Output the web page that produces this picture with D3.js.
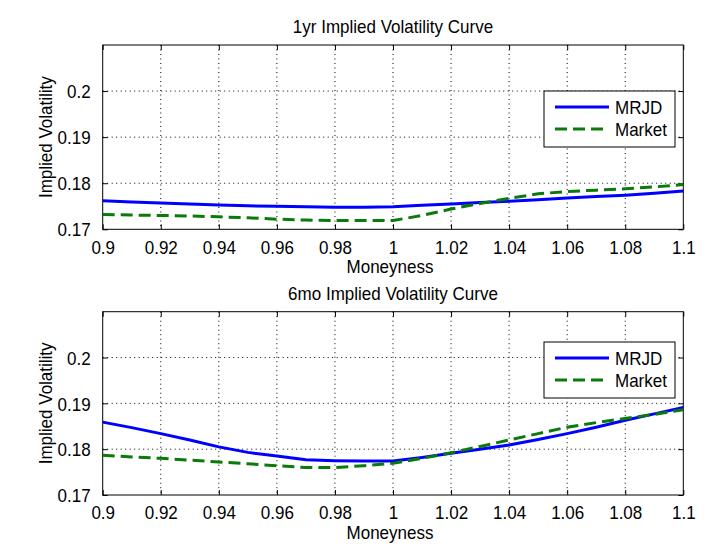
<!DOCTYPE html>
<html>
<head>
<meta charset="utf-8">
<script src="https://cdn.jsdelivr.net/npm/d3@7"></script>
<style>
  html, body { margin: 0; padding: 0; background: #fff; }
  svg { display: block; }
  text { font-family: "Liberation Sans", Arial, sans-serif; fill: #000; }
</style>
</head>
<body>
<svg id="chart" width="710" height="560"></svg>
<script>
// ---------- data ----------
const moneyness = [0.90,0.91,0.92,0.93,0.94,0.95,0.96,0.97,0.98,0.99,1.00,1.01,1.02,1.03,1.04,1.05,1.06,1.07,1.08,1.09,1.10];

const mrjd1yr   = [0.1762,0.1759,0.1757,0.1755,0.1753,0.1751,0.1750,0.1749,0.1748,0.1748,0.1749,0.1752,0.1755,0.1758,0.1761,0.1764,0.1768,0.1771,0.1774,0.1778,0.1783];
const market1yr = [0.1732,0.1731,0.1730,0.1729,0.1727,0.1725,0.1722,0.1720,0.1719,0.1719,0.1719,0.1730,0.1744,0.1756,0.1767,0.1777,0.1782,0.1785,0.1788,0.1792,0.1797];

const mrjd6mo   = [0.1859,0.1847,0.1834,0.1820,0.1805,0.1793,0.1785,0.1777,0.1775,0.1774,0.1774,0.1782,0.1791,0.1800,0.1809,0.1821,0.1834,0.1848,0.1863,0.1877,0.1891];
const market6mo = [0.1787,0.1783,0.1780,0.1776,0.1772,0.1768,0.1764,0.1760,0.1760,0.1764,0.1769,0.1780,0.1792,0.1806,0.1820,0.1834,0.1848,0.1858,0.1867,0.1876,0.1886];

const xTicks = [0.9,0.92,0.94,0.96,0.98,1.0,1.02,1.04,1.06,1.08,1.1];
const xTickLabels = ["0.9","0.92","0.94","0.96","0.98","1","1.02","1.04","1.06","1.08","1.1"];
const yTicks = [0.17,0.18,0.19,0.2];
const yTickLabels = ["0.17","0.18","0.19","0.2"];
const xDomain = [0.9, 1.1];
const yDomain = [0.17, 0.21];

const seriesNames = ["MRJD", "Market"];
const panelTitles = ["1yr Implied Volatility Curve", "6mo Implied Volatility Curve"];
const xLabel = "Moneyness";
const yLabel = "Implied Volatility";

// ---------- styles / layout ----------
const colors = { MRJD: "#0000ff", Market: "#0a7a0a" };
const dashes = { MRJD: null, Market: "12,6" };
const FONT = 17;      // width-defining size
const FONT_TALL = 18.5; // glyph height size (text is slightly condensed)

const svg = d3.select("#chart");
svg.append("rect").attr("width", 710).attr("height", 560).attr("fill", "#fff");

// make text taller while keeping the width of FONT-size text
function condense(sel) {
  sel.each(function () {
    const t = d3.select(this);
    t.attr("font-size", FONT);
    const w = this.getComputedTextLength();
    t.attr("font-size", FONT_TALL).attr("textLength", w).attr("lengthAdjust", "spacingAndGlyphs");
  });
}

const panels = [
  { top: 45,    bottom: 229.3, legendY: 91,  title: panelTitles[0], data: [mrjd1yr, market1yr] },
  { top: 311.7, bottom: 495,   legendY: 342, title: panelTitles[1], data: [mrjd6mo, market6mo] }
];
const left = 102.7, right = 683.3;

panels.forEach(p => {
  const x = d3.scaleLinear().domain(xDomain).range([left, right]);
  const y = d3.scaleLinear().domain(yDomain).range([p.bottom, p.top]);
  const g = svg.append("g");

  // grid (dotted)
  const grid = g.append("g").attr("stroke", "#000").attr("stroke-width", 1)
    .attr("stroke-dasharray", "1,3.5");
  xTicks.slice(1, -1).forEach(t => {
    grid.append("line").attr("x1", x(t)).attr("x2", x(t))
      .attr("y1", p.top).attr("y2", p.bottom);
  });
  yTicks.slice(1).forEach(t => {
    grid.append("line").attr("x1", left).attr("x2", right)
      .attr("y1", y(t)).attr("y2", y(t));
  });

  // axes via d3 with inward ticks
  const xAxisB = d3.axisBottom(x).tickValues(xTicks).tickSize(-5)
    .tickFormat((d, i) => xTickLabels[i]).tickPadding(10);
  const gxb = g.append("g").attr("transform", `translate(0,${p.bottom})`).call(xAxisB);
  gxb.select(".domain").remove();
  gxb.selectAll("text").attr("font-family", "Liberation Sans, Arial, sans-serif")
    .attr("fill", "#000").attr("dy", "0.78em").call(condense);
  gxb.selectAll("line").attr("stroke", "#000");

  const xAxisT = d3.axisTop(x).tickValues(xTicks).tickSize(-5).tickFormat("");
  const gxt = g.append("g").attr("transform", `translate(0,${p.top})`).call(xAxisT);
  gxt.select(".domain").remove();
  gxt.selectAll("line").attr("stroke", "#000");

  const yAxisL = d3.axisLeft(y).tickValues(yTicks).tickSize(-5)
    .tickFormat((d, i) => yTickLabels[i]).tickPadding(12);
  const gyl = g.append("g").attr("transform", `translate(${left},0)`).call(yAxisL);
  gyl.select(".domain").remove();
  gyl.selectAll("text").attr("font-family", "Liberation Sans, Arial, sans-serif")
    .attr("fill", "#000").attr("dy", "0.36em").call(condense);
  gyl.selectAll("line").attr("stroke", "#000");

  const yAxisR = d3.axisRight(y).tickValues(yTicks).tickSize(-5).tickFormat("");
  const gyr = g.append("g").attr("transform", `translate(${right},0)`).call(yAxisR);
  gyr.select(".domain").remove();
  gyr.selectAll("line").attr("stroke", "#000");

  // box
  g.append("rect").attr("x", left).attr("y", p.top)
    .attr("width", right - left).attr("height", p.bottom - p.top)
    .attr("fill", "none").attr("stroke", "#000").attr("stroke-width", 1);

  // lines
  const line = d3.line().x((d, i) => x(moneyness[i])).y(d => y(d));
  p.data.forEach((vals, si) => {
    const name = seriesNames[si];
    g.append("path").datum(vals).attr("d", line)
      .attr("fill", "none").attr("stroke", colors[name]).attr("stroke-width", 3)
      .attr("stroke-dasharray", dashes[name]);
  });

  // title
  g.append("text").attr("x", (left + right) / 2).attr("y", p.top - 12)
    .attr("text-anchor", "middle").text(p.title).call(condense);

  // x label
  g.append("text").attr("x", (left + right) / 2 - 3).attr("y", p.bottom + 44)
    .attr("text-anchor", "middle").text(xLabel).call(condense);

  // y label
  g.append("text")
    .attr("transform", `translate(52,${(p.top + p.bottom) / 2}) rotate(-90)`)
    .attr("text-anchor", "middle").text(yLabel).call(condense);

  // legend
  const lx = 544, ly = p.legendY, lw = 131, lh = 56;
  const lg = g.append("g");
  lg.append("rect").attr("x", lx).attr("y", ly).attr("width", lw).attr("height", lh)
    .attr("fill", "#fff").attr("stroke", "#000").attr("stroke-width", 1);
  seriesNames.forEach((name, i) => {
    const cy = ly + 16 + i * 22;
    lg.append("line").attr("x1", lx + 11).attr("x2", lx + 65).attr("y1", cy).attr("y2", cy)
      .attr("stroke", colors[name]).attr("stroke-width", 3)
      .attr("stroke-dasharray", dashes[name]);
    lg.append("text").attr("x", lx + 71).attr("y", cy).attr("dy", "0.36em")
      .text(name).call(condense);
  });
});
</script>
</body>
</html>
